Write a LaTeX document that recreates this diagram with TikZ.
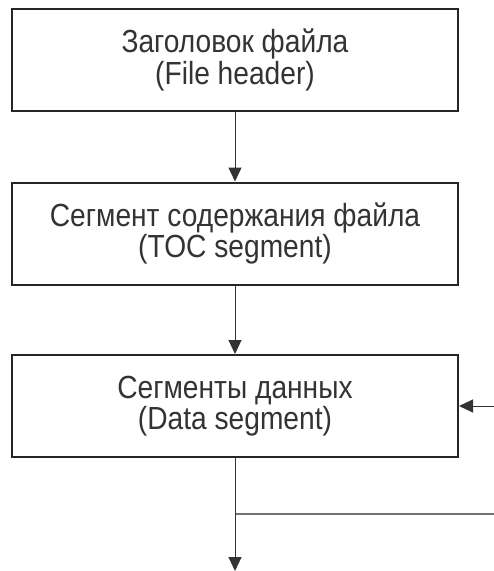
\documentclass[tikz,border=0pt]{standalone}
\usepackage{fontspec}
\setmainfont{Liberation Sans}
\usetikzlibrary{arrows.meta}
\newcommand{\nar}[1]{\scalebox{0.88}[1]{#1}}
\begin{document}
\begin{tikzpicture}[x=1pt,y=-1pt,
  blk/.style={draw=black!85,line width=2pt,minimum width=446pt,minimum height=102pt,inner sep=0pt,
    font=\fontsize{32}{31.5}\selectfont,text=black!80,align=center},
  conn/.style={draw=black!80,line width=1pt,-{Triangle[length=14pt,width=13pt]}},
  plain/.style={draw=black!55,line width=1.2pt}]
\useasboundingbox (0,0) rectangle (494,571);
\node[blk] (b1) at (235,60) {\nar{Заголовок файла}\\\nar{(File header)}\\[-25pt]};
\node[blk] (b2) at (235,233.5) {\nar{Сегмент содержания файла}\\\nar{(TOC segment)}\\[-25pt]};
\node[blk] (b3) at (235,406) {\nar{Сегменты данных}\\\nar{(Data segment)}\\[-25pt]};
\coordinate (inR) at (494,406);
\coordinate (j) at (b3.south |- 0,514);
\coordinate (outR) at (494,514);
\coordinate (bot) at (b3.south |- 0,571);
\draw[conn] (b1) -- (b2);
\draw[conn] (b2) -- (b3);
\draw[conn] (inR) -- (b3);
\draw[plain] (j) -- (outR);
\draw[conn] (b3) -- (bot);
\end{tikzpicture}
\end{document}
